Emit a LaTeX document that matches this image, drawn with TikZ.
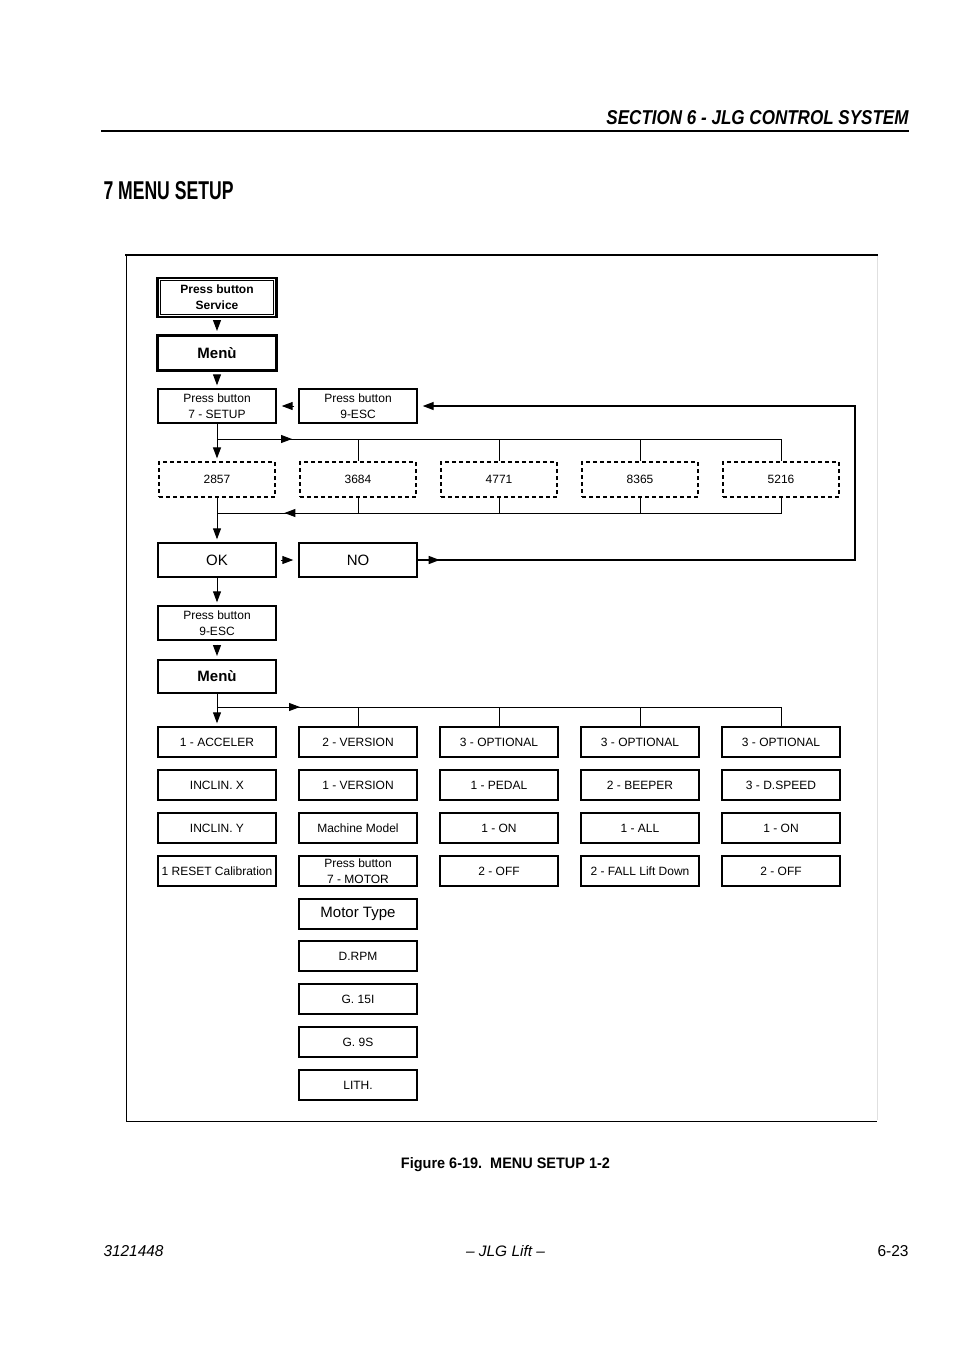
\documentclass[tikz,border=0pt]{standalone}
\usepackage{fontspec}
\setmainfont{Liberation Sans}
\usepackage{graphicx}
\usetikzlibrary{positioning}
\usetikzlibrary{arrows.meta}
\usetikzlibrary{decorations.markings}

\begin{document}
\begin{tikzpicture}[x=1pt,y=1pt,>={Triangle[length=11pt,width=8pt]},line width=1pt,
	menubox/.style={draw,rectangle,line width=1.4pt,minimum width=118pt,minimum height=30pt,
		inner sep=1pt,align=center,font=\fontsize{12}{16}\selectfont},
	numbox/.style={menubox,dash pattern=on 4pt off 3pt,line width=1.2pt,minimum width=116pt,minimum height=35pt},
	bigtext/.style={font=\fontsize{15}{17}\selectfont},
	flow/.style={->,shorten >=3pt},
	shortflow/.style={flow,shorten <=4pt},
	arrowat/.style={postaction={decorate},decoration={markings,mark=at position #1 with {\arrow{>}}}}]
	
	\useasboundingbox (0,0) rectangle (954,-1350);
	
	% page head and foot
	\node[anchor=base east,inner sep=0] (hdr) at (909,-124) {\resizebox{302pt}{14pt}{\bfseries\itshape SECTION 6 - JLG CONTROL SYSTEM}};
	\draw[line width=1.2pt] (101,-131) -- (909,-131);
	\node[anchor=base west,inner sep=0] (ttl) at (103,-199) {\resizebox{130pt}{18pt}{\bfseries 7 MENU SETUP}};
	\node[anchor=base,inner sep=0] (cap) at (505.5,-1168) {\resizebox{209pt}{11pt}{\bfseries Figure 6-19.\ \ MENU SETUP 1-2}};
	\node[anchor=base west,inner sep=0] (docno) at (103,-1256) {\resizebox{60pt}{11pt}{\itshape 3121448}};
	\node[anchor=base,inner sep=0] (brand) at (505.5,-1256) {\resizebox{79pt}{11pt}{\itshape \textendash{} JLG Lift \textendash}};
	\node[anchor=base east,inner sep=0] (pageno) at (909,-1256) {\resizebox{31pt}{11pt}{6-23}};
	
	% figure frame
	\draw[line width=1pt] (126,-255) -- (126,-1121) -- (877,-1121);
	\draw[line width=2.6pt] (125,-255) -- (878,-255);
	\draw[line width=0.6pt,black!12] (877,-256) -- (877,-1120);
	
	% entry
	\node[menubox,line width=2.6pt,minimum width=119pt,minimum height=39pt,font=\bfseries\fontsize{12}{16}\selectfont] (svc) at (217,-297.5) {Press button\\Service};
	\draw[line width=1.1pt] ([shift={(4,-4)}]svc.north west) rectangle ([shift={(-4,4)}]svc.south east);
	\node[menubox,line width=3pt,minimum width=119pt,minimum height=35pt,font=\bfseries\fontsize{15}{17}\selectfont] (menu1) at (217,-353) {Menù};
	\node[menubox,minimum height=34pt] (setup) at (217,-406) {Press button\\7 - SETUP};
	\node[menubox,minimum height=34pt,node distance=141pt,right of=setup] (esc1) {Press button\\9-ESC};
	
	% codes
	\node[numbox] (d2857) at (217,-479.5) {2857};
	\node[numbox,node distance=141pt,right of=d2857] (d3684) {3684};
	\node[numbox,node distance=141pt,right of=d3684] (d4771) {4771};
	\node[numbox,node distance=141pt,right of=d4771] (d8365) {8365};
	\node[numbox,node distance=141pt,right of=d8365] (d5216) {5216};
	
	\node[menubox,minimum height=34pt,bigtext] (ok) at (217,-560) {OK};
	\node[menubox,minimum height=34pt,bigtext,node distance=141pt,right of=ok] (no) {NO};
	\node[menubox,minimum height=34pt] (esc2) at (217,-623) {Press button\\9-ESC};
	\node[menubox,line width=2pt,minimum height=33pt,font=\bfseries\fontsize{15}{17}\selectfont] (menu2) at (217,-676.5) {Menù};
	
	% menu items
	\node[menubox] (acc) at (217,-742) {1 - ACCELER};
	\node[menubox,node distance=43pt,below of=acc] (inx) {INCLIN. X};
	\node[menubox,node distance=43pt,below of=inx] (iny) {INCLIN. Y};
	\node[menubox,node distance=43pt,below of=iny] (rst) {1 RESET Calibration};
	
	\node[menubox,node distance=141pt,right of=acc] (ver) {2 - VERSION};
	\node[menubox,node distance=43pt,below of=ver] (ver1) {1 - VERSION};
	\node[menubox,node distance=43pt,below of=ver1] (model) {Machine Model};
	\node[menubox,node distance=43pt,below of=model,inner ysep=0pt,font=\fontsize{12}{15.5}\selectfont] (motor) {Press button\\7 - MOTOR};
	\node[menubox,node distance=43pt,below of=motor,bigtext] (mtype) {Motor Type};
	\node[menubox,node distance=42pt,below of=mtype] (drpm) {D.RPM};
	\node[menubox,node distance=43pt,below of=drpm] (g15) {G. 15I};
	\node[menubox,node distance=43pt,below of=g15] (g9) {G. 9S};
	\node[menubox,node distance=43pt,below of=g9] (lith) {LITH.};
	
	\node[menubox,node distance=141pt,right of=ver] (opt1) {3 - OPTIONAL};
	\node[menubox,node distance=43pt,below of=opt1] (pedal) {1 - PEDAL};
	\node[menubox,node distance=43pt,below of=pedal] (pon) {1 - ON};
	\node[menubox,node distance=43pt,below of=pon] (poff) {2 - OFF};
	
	\node[menubox,node distance=141pt,right of=opt1] (opt2) {3 - OPTIONAL};
	\node[menubox,node distance=43pt,below of=opt2] (beep) {2 - BEEPER};
	\node[menubox,node distance=43pt,below of=beep] (all) {1 - ALL};
	\node[menubox,node distance=43pt,below of=all] (fall) {2 - FALL Lift Down};
	
	\node[menubox,node distance=141pt,right of=opt2] (opt3) {3 - OPTIONAL};
	\node[menubox,node distance=43pt,below of=opt3] (dspeed) {3 - D.SPEED};
	\node[menubox,node distance=43pt,below of=dspeed] (son) {1 - ON};
	\node[menubox,node distance=43pt,below of=son] (soff) {2 - OFF};
	
	% connectors
	\coordinate (tb) at (0,-439);
	\coordinate (bb) at (0,-513);
	\coordinate (mb) at (0,-707);
	\coordinate (rt) at (855,0);
	
	\draw[shortflow] (svc) -- (menu1);
	\draw[shortflow] (menu1) -- (setup);
	\draw[shortflow,shorten >=5pt] (esc1) -- (setup);
	\draw[flow] (setup) -- (d2857);
	\draw[arrowat=75pt] (setup.south |- tb) -- (d5216.north |- tb) -- (d5216.north);
	\foreach \n in {d3684,d4771,d8365}
		\draw (\n.north |- tb) -- (\n.north);
	\draw[arrowat=512pt] (d5216.south) -- (d5216.south |- bb) -- (d2857.south |- bb);
	\foreach \n in {d3684,d4771,d8365}
		\draw (\n.south) -- (\n.south |- bb);
	\draw[flow] (d2857) -- (ok);
	\draw[shortflow,shorten >=5pt] (ok) -- (no);
	\draw[flow,shorten >=5pt,line width=1.3pt,arrowat=22pt] (no.east) -- (no.east -| rt) -- (esc1.east -| rt) -- (esc1.east);
	\draw[flow] (ok) -- (esc2);
	\draw[shortflow] (esc2) -- (menu2);
	\draw[flow] (menu2) -- (acc);
	\draw[arrowat=83pt] (menu2.south |- mb) -- (opt3.north |- mb) -- (opt3.north);
	\foreach \n in {ver,opt1,opt2}
		\draw (\n.north |- mb) -- (\n.north);
\end{tikzpicture}
\end{document}
